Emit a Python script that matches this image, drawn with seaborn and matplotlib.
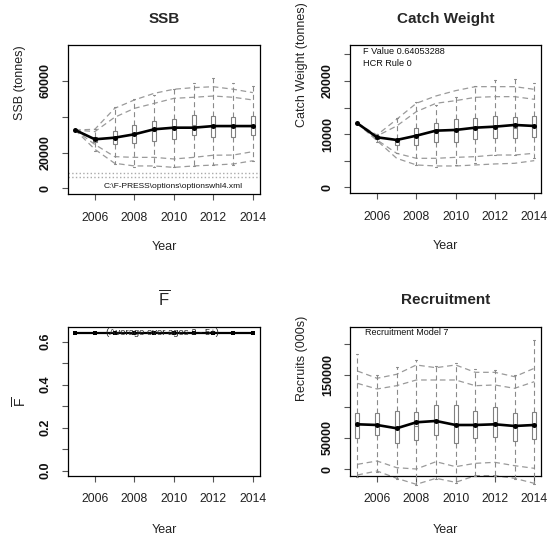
import matplotlib
matplotlib.use("Agg")
import matplotlib.pyplot as plt
import seaborn as sns
import pandas as pd

# ---------------- data ----------------
years = [2005, 2006, 2007, 2008, 2009, 2010, 2011, 2012, 2013, 2014]
box_years = [2006, 2007, 2008, 2009, 2010, 2011, 2012, 2013, 2014]

# SSB (tonnes)
ssb_median = [32600, 27400, 28300, 30200, 33000, 33900, 33900, 34800, 34800, 34800]
ssb_upper_outer = [32600, 33000, 44700, 49400, 53100, 55400, 56300, 56800, 55400, 53500]
ssb_upper_inner = [32600, 31700, 39700, 44700, 47500, 50300, 50900, 51600, 50900, 49400]
ssb_lower_inner = [32600, 24500, 17700, 17300, 17300, 16400, 17300, 18500, 18600, 20500]
ssb_lower_outer = [32600, 21800, 14000, 12500, 12500, 11700, 12500, 13000, 13600, 15400]
ssb_q1 = [26100, 24600, 25200, 26600, 27400, 29800, 28900, 28900, 29800]
ssb_q3 = [28900, 32200, 35400, 37600, 38600, 40800, 40400, 39700, 40400]
ssb_whislo = [21000, 13600, 12100, 12100, 11700, 12500, 12800, 12900, 15000]
ssb_whishi = [33000, 45600, 49800, 52000, 55400, 59100, 61500, 58700, 57200]
ssb_refs = [8700, 6150]
ssb_ticks = [0, 20000, 40000, 60000]
ssb_ticklabels = ["0", "20000", "", "60000"]

# Catch weight (tonnes)
cw_median = [12030, 9400, 8900, 9700, 10650, 10780, 11210, 11400, 11720, 11530]
cw_upper_outer = [12030, 9830, 12780, 15790, 17170, 18170, 18920, 18920, 18920, 18420]
cw_upper_inner = [12030, 9650, 11530, 14220, 15790, 16290, 16910, 17040, 17040, 16540]
cw_lower_inner = [12030, 8900, 6390, 5450, 5450, 5630, 5760, 6070, 6070, 6390]
cw_lower_outer = [12030, 8770, 5450, 4200, 4010, 4010, 4200, 4390, 4510, 5010]
cw_q1 = [9150, 7950, 7950, 8460, 8580, 9080, 9330, 9210, 9520]
cw_q3 = [9650, 9020, 11090, 12140, 12780, 12970, 13400, 13160, 13400]
cw_whislo = [8580, 6390, 4190, 3870, 4190, 4560, 6070, 6000, 5500]
cw_whishi = [9960, 12970, 16090, 15470, 17030, 19040, 20170, 20360, 19550]
cw_ticks = [0, 5000, 10000, 15000, 20000, 25000]
cw_ticklabels = ["0", "", "10000", "", "20000", ""]

# Mean F
fbar = [0.6405, 0.6405, 0.6405, 0.6405, 0.6405, 0.6405, 0.6405, 0.6405, 0.6405, 0.6405]
f_ticks = [0.0, 0.1, 0.2, 0.3, 0.4, 0.5, 0.6]
f_ticklabels = ["0.0", "", "0.2", "", "0.4", "", "0.6"]

# Recruitment (000s)
rec_median = [71880, 70770, 65500, 75080, 77200, 70770, 70770, 71880, 69170, 70770]
rec_upper_outer = [157000, 145370, 151750, 166620, 162300, 166620, 154900, 154900, 147920, 161290]
rec_upper_inner = [137330, 128270, 133550, 142650, 142650, 142650, 133550, 134660, 129340, 139930]
rec_lower_inner = [7940, 13260, 2600, 480, 12140, 4200, 9540, 11130, 5800, 1550]
rec_lower_outer = [-9100, -2700, -14400, -24000, -14400, -20800, -10200, -10200, -14400, -22400]
rec_q1 = [49470, 54790, 42490, 46800, 54790, 41480, 49470, 52070, 45210, 48400]
rec_q3 = [89450, 90510, 93130, 92010, 102710, 102710, 93130, 100000, 89450, 91000]
rec_whislo = [-12000, -5000, -16000, -25000, -16000, -22000, -11000, -11000, -15000, -24000]
rec_whishi = [183700, 150000, 163900, 174600, 165000, 170000, 160000, 158000, 150000, 206500]
rec_ticks = [0, 50000, 100000, 150000, 200000]
rec_ticklabels = ["0", "50000", "", "150000", ""]

xticks = [2006, 2008, 2010, 2012, 2014]

# ---------------- style ----------------
sns.set_theme(style="white")
plt.rcParams['font.family'] = ['Liberation Sans', 'DejaVu Sans']
plt.rcParams['mathtext.fontset'] = 'custom'
plt.rcParams['mathtext.rm'] = 'Liberation Sans'
plt.rcParams['mathtext.it'] = 'Liberation Sans:italic'
plt.rcParams['mathtext.bf'] = 'Liberation Sans:bold'

fig = plt.figure(figsize=(5.47, 5.38), dpi=100)
W, H = 547.0, 538.0


def make_ax(l, r, t, b):
    return fig.add_axes([l / W, 1 - b / H, (r - l) / W, (b - t) / H])


ax_ssb = make_ax(68, 260, 45, 194.3)
ax_cw = make_ax(350.3, 541.3, 45, 193.3)
ax_f = make_ax(68, 260, 327.3, 476)
ax_rec = make_ax(350.3, 541.3, 327.3, 476)

DASH_COL = '#9a9a9a'


def style_axes(ax, ylim, yticks, yticklabels):
    ax.set_xlim(2004.64, 2014.36)
    ax.set_ylim(*ylim)
    ax.set_xticks(xticks)
    ax.set_xticklabels([str(x) for x in xticks], fontsize=8.8, color='#222')
    ax.set_yticks(yticks)
    ax.set_yticklabels(yticklabels, fontsize=9, fontweight='bold', color='#111')
    ax.tick_params(axis='both', direction='out', length=4.3, width=0.8, color='#555',
                   left=True, bottom=True)
    ax.tick_params(axis='x', pad=8.2)
    ax.tick_params(axis='y', pad=7.5, labelrotation=90)
    for lab in ax.get_yticklabels():
        lab.set_va('center')
    for sp in ax.spines.values():
        sp.set_color('black')
        sp.set_linewidth(0.9)
    ax.grid(False)


def draw_fan(ax, med, lines, bx_years, q1, q3, lo, hi, clip=True):
    for ln in lines:
        sns.lineplot(x=years, y=ln, ax=ax, color=DASH_COL, linewidth=0.9,
                     linestyle=(0, (4.5, 3)), zorder=2, clip_on=clip)
    stats = []
    for i in range(len(bx_years)):
        stats.append(dict(med=q1[i] + (q3[i] - q1[i]) / 2.0, q1=q1[i], q3=q3[i],
                          whislo=lo[i], whishi=hi[i], fliers=[]))
    art = ax.bxp(stats, positions=bx_years, widths=0.2, showfliers=False,
                 patch_artist=True, manage_ticks=False,
                 boxprops=dict(facecolor='white', edgecolor='#808080', linewidth=0.8),
                 whiskerprops=dict(color='#8a8a8a', linestyle=(0, (4.5, 3)), linewidth=0.8),
                 capprops=dict(color='#8a8a8a', linewidth=0.8),
                 medianprops=dict(color='#808080', linewidth=0.8), zorder=3)
    if not clip:
        for key in art:
            for a in art[key]:
                a.set_clip_on(False)
    sns.lineplot(x=years, y=med, ax=ax, color='black', linewidth=1.9, marker='o',
                 markersize=3.6, markeredgewidth=0, zorder=5)


# ---- SSB ----
draw_fan(ax_ssb, ssb_median, [ssb_upper_outer, ssb_upper_inner, ssb_lower_inner, ssb_lower_outer],
         box_years, ssb_q1, ssb_q3, ssb_whislo, ssb_whishi)
for r in ssb_refs:
    ax_ssb.axhline(r, color='#aaaaaa', linestyle=':', linewidth=1.0, zorder=1)
style_axes(ax_ssb, (-3355, 80130), ssb_ticks, ssb_ticklabels)
ax_ssb.text(0.547, 0.05, "C:\\F-PRESS\\options\\optionswhl4.xml", transform=ax_ssb.transAxes,
            ha='center', va='center', fontsize=6.0,
            family=['Liberation Sans Narrow', 'Liberation Sans', 'DejaVu Sans'], color='#111')
ax_ssb.set_title("SSB", fontsize=11, fontweight='bold', pad=16)

# ---- Catch weight ----
draw_fan(ax_cw, cw_median, [cw_upper_outer, cw_upper_inner, cw_lower_inner, cw_lower_outer],
         box_years, cw_q1, cw_q3, cw_whislo, cw_whishi)
style_axes(ax_cw, (-1128, 26750), cw_ticks, cw_ticklabels)
ax_cw.text(0.066, 0.953, "F Value 0.64053288", transform=ax_cw.transAxes, ha='left',
           va='center', fontsize=6.6, color='#111')
ax_cw.text(0.066, 0.878, "HCR Rule 0", transform=ax_cw.transAxes, ha='left',
           va='center', fontsize=6.6, color='#111')
ax_cw.set_title("Catch Weight", fontsize=11, fontweight='bold', pad=16)

# ---- F bar ----
sns.lineplot(x=years, y=fbar, ax=ax_f, color='black', linewidth=1.6, marker='s',
             markersize=2.8, markeredgewidth=0, zorder=4)
style_axes(ax_f, (-0.025, 0.667), f_ticks, f_ticklabels)
ax_f.text(2009.43, fbar[0], "(Average over ages 2 - 5+)", ha='center', va='center',
          fontsize=6.8, color='#222', zorder=5)
ax_f.set_title(r"$\overline{\mathrm{F}}$", fontsize=12, pad=16)

# ---- Recruitment ----
draw_fan(ax_rec, rec_median, [rec_upper_outer, rec_upper_inner, rec_lower_inner, rec_lower_outer],
         years, rec_q1, rec_q3, rec_whislo, rec_whishi, clip=False)
style_axes(ax_rec, (-10700, 226800), rec_ticks, rec_ticklabels)
ax_rec.text(0.077, 0.962, "Recruitment Model 7", transform=ax_rec.transAxes, ha='left',
            va='center', fontsize=6.5, color='#111')
ax_rec.set_title("Recruitment", fontsize=11, fontweight='bold', pad=17)

# ---- axis labels ----
lab_kw = dict(fontsize=9, color='#222')
ax_ssb.set_ylabel("SSB (tonnes)", **lab_kw)
ax_ssb.yaxis.set_label_coords(-0.22, 0.75)
ax_cw.set_ylabel("Catch Weight (tonnes)", **lab_kw)
ax_cw.yaxis.set_label_coords(-0.222, 0.865)
ax_f.set_ylabel(r"$\overline{\mathrm{F}}$", fontsize=10, color='#222')
ax_f.yaxis.set_label_coords(-0.2, 0.5)
ax_rec.set_ylabel("Recruits (000s)", **lab_kw)
ax_rec.yaxis.set_label_coords(-0.222, 0.79)

for ax in (ax_ssb, ax_cw):
    ax.set_xlabel("Year", **lab_kw)
    ax.xaxis.set_label_coords(0.5, -0.313)
for ax in (ax_f, ax_rec):
    ax.set_xlabel("Year", **lab_kw)
    ax.xaxis.set_label_coords(0.5, -0.323)

fig.savefig("out.png", dpi=100, facecolor='white')
